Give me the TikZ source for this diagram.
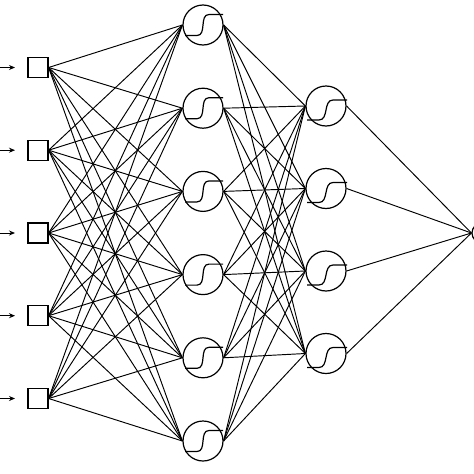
\documentclass[tikz,border=0pt]{standalone}
\usetikzlibrary{arrows.meta}
\begin{document}
\begin{tikzpicture}[x=1pt,y=-1pt,
  inbox/.style={draw, line width=1.2pt, minimum size=20pt, inner sep=0pt},
  neuron/.style={draw, circle, line width=1.2pt, minimum size=40pt, inner sep=0pt},
  link/.style={line width=0.95pt},
  inarrow/.style={line width=0.95pt, -{Stealth[length=6pt,width=5pt]}},
  sigA/.pic={\draw[line width=1.2pt] (-18,10.5) -- (-6,10.5) .. controls (4,10.5) and (-4,-10.5) .. (6,-10.5) -- (20,-10.5);},
  sigB/.pic={\draw[line width=1.2pt] (-19,14) -- (-7,14) .. controls (3,14) and (-3,-6) .. (7,-6) -- (21,-6);}
]
\useasboundingbox (0,0) rectangle (474,474);
% input layer
\foreach \i/\y in {1/67.5,2/150.2,3/233,4/315.7,5/398.5}{
  \node[inbox] (in\i) at (38,\y) {};
  \coordinate (a\i) at (0,\y);
  \coordinate (e\i) at (15,\y);
  \draw[inarrow] (a\i) -- (e\i);
}
% hidden layer 1
\foreach \j/\y in {1/25,2/108.2,3/191.4,4/274.6,5/357.8,6/441}{
  \node[neuron] (h\j) at (203,\y) {};
  \pic at (h\j.center) {sigA};
}
% hidden layer 2
\foreach \k/\y in {1/106,2/188.5,3/271,4/353.5}{
  \node[neuron] (g\k) at (326,\y) {};
  \pic at (g\k.center) {sigB};
}
% output
\node[neuron, minimum size=20pt] (out) at (482,233) {};
% connections
\foreach \i in {1,...,5}{
  \foreach \j in {1,...,6}{
    \draw[link] (in\i.east) -- (h\j.west);
  }
}
\foreach \j in {1,...,6}{
  \foreach \k in {1,...,4}{
    \draw[link] (h\j.east) -- (g\k.west);
  }
}
\foreach \k in {1,...,4}{
  \draw[link] (g\k.east) -- (out.west);
}
\end{tikzpicture}
\end{document}
